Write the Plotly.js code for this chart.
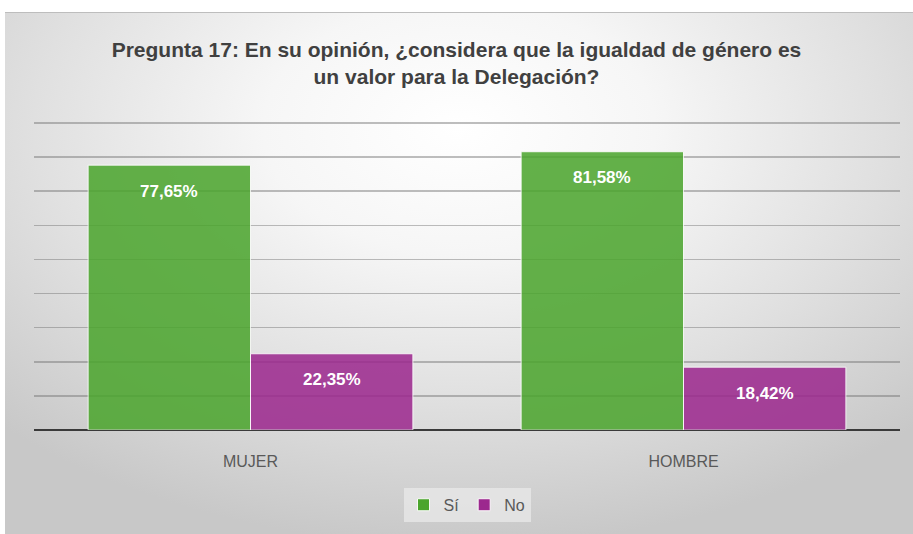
<!DOCTYPE html>
<html>
<head>
<meta charset="utf-8">
<script src="https://cdn.plot.ly/plotly-3.0.1.min.js"></script>
<style>
  html, body { margin: 0; padding: 0; background: #ffffff; width: 913px; height: 534px; overflow: hidden; }
  #bg { position: absolute; left: 5px; top: 12px; width: 908px; height: 522px;
        border-top: 1px solid #bdbdbd;
        background: radial-gradient(ellipse 72% 80% at 50% 22%, #ffffff 0%, #f6f6f6 30%, #e0e0e0 65%, #c8c8c8 100%); }
  #chart { position: absolute; left: 0; top: 0; width: 913px; height: 534px; }
</style>
</head>
<body>
<div id="bg"></div>
<div id="chart"></div>
<script>
const categories = ["MUJER", "HOMBRE"];
const seriesNames = ["Sí", "No"];
const siValues = [77.65, 81.58];
const noValues = [22.35, 18.42];
const siLabels = ["77,65%", "81,58%"];
const noLabels = ["22,35%", "18,42%"];

const bargap = 0.25;
const barHalfOffset = (1 - bargap) / 4;

const traces = [
  { type: "bar", name: seriesNames[0], x: categories, y: siValues,
    marker: { color: "rgb(75,165,45)", opacity: 0.86, line: { color: "rgba(255,255,255,0.9)", width: 1 } },
    hoverinfo: "none" },
  { type: "bar", name: seriesNames[1], x: categories, y: noValues,
    marker: { color: "rgb(156,40,142)", opacity: 0.86, line: { color: "rgba(255,255,255,0.9)", width: 1 } },
    hoverinfo: "none" }
];

const labelFont = { family: "Liberation Sans, Arial, sans-serif", size: 17, color: "#ffffff", weight: "bold" };
const annotations = [];
categories.forEach((c, i) => {
  annotations.push({ x: i - barHalfOffset, y: siValues[i], xref: "x", yref: "y", text: siLabels[i],
    showarrow: false, yanchor: "middle", yshift: -26, font: labelFont });
  annotations.push({ x: i + barHalfOffset, y: noValues[i], xref: "x", yref: "y", text: noLabels[i],
    showarrow: false, yanchor: "middle", yshift: -26, font: labelFont });
});

const layout = {
  width: 913, height: 534,
  paper_bgcolor: "rgba(0,0,0,0)",
  plot_bgcolor: "rgba(0,0,0,0)",
  margin: { l: 34, r: 13, t: 122, b: 102 },
  barmode: "group",
  bargap: bargap,
  bargroupgap: 0,
  title: {
    text: "Pregunta 17: En su opinión, ¿considera que la igualdad de género es<br>un valor para la Delegación?",
    font: { family: "Liberation Sans, Arial, sans-serif", size: 21, color: "#404040", weight: "bold" },
    x: 0.5, xanchor: "center", y: 0.893, yanchor: "middle", yref: "container"
  },
  xaxis: {
    type: "category",
    showgrid: false,
    showline: false,
    ticks: "",
    tickfont: { family: "Liberation Sans, Arial, sans-serif", size: 16, color: "#595959" },
    ticklabelstandoff: 20
  },
  yaxis: {
    range: [0, 90.3],
    tickvals: [0, 10, 20, 30, 40, 50, 60, 70, 80, 90],
    showticklabels: false,
    showgrid: true,
    gridcolor: "rgba(110,110,110,0.45)",
    gridwidth: 1.5,
    zeroline: true,
    zerolinecolor: "#3a3a3a",
    zerolinewidth: 2.5,
    showline: false,
    fixedrange: true
  },
  showlegend: true,
  legend: {
    orientation: "h",
    x: 0.5, xanchor: "center",
    y: -0.243, yanchor: "middle",
    bgcolor: "rgba(235,235,235,0.7)",
    font: { family: "Liberation Sans, Arial, sans-serif", size: 16, color: "#595959" },
    itemwidth: 30,
    traceorder: "normal"
  },
  annotations: annotations
};

Plotly.newPlot("chart", traces, layout, { displayModeBar: false, staticPlot: true });
</script>
</body>
</html>
